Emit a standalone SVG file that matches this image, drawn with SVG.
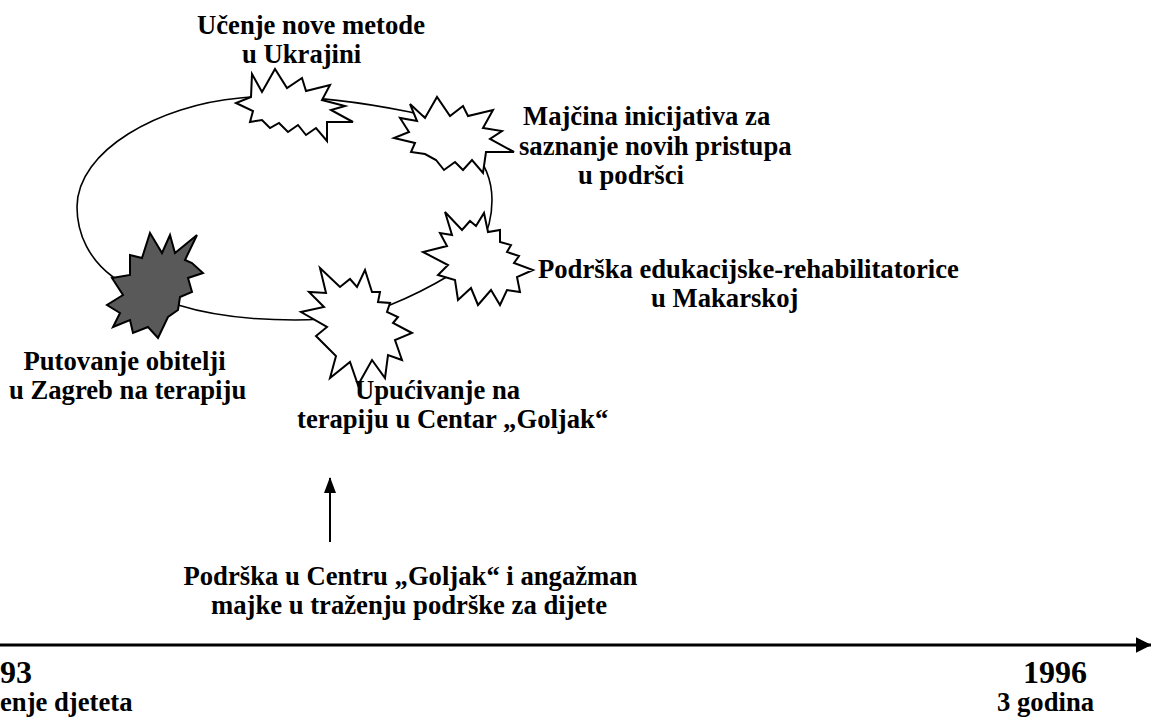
<svg xmlns="http://www.w3.org/2000/svg" width="1151" height="720" viewBox="0 0 1151 720">
<style>
.t{font-family:"Liberation Serif","Times New Roman",serif;font-weight:bold;font-size:26.67px;fill:#000}
.y{font-size:32px}
.star{fill:#fff;stroke:#000;stroke-width:2;stroke-linejoin:miter}
.dark{fill:#595959}
.loop{fill:none;stroke:#000;stroke-width:1.6}
.ar{stroke:#000;fill:none}
</style>
<defs>
<marker id="ahv" markerUnits="userSpaceOnUse" markerWidth="16" markerHeight="12" refX="15" refY="6" orient="auto" viewBox="0 0 16 12">
<path d="M0,0 L16,6 L0,12 Z" fill="#000"/>
</marker>
<marker id="aht" markerUnits="userSpaceOnUse" markerWidth="16" markerHeight="18" refX="15.5" refY="9" orient="auto" viewBox="0 0 16 18">
<path d="M0,1 L16,9 L0,17 Z" fill="#000"/>
</marker>
</defs>
<rect width="1151" height="720" fill="#fff"/>
<g id="connectors">
<path class="loop" d="M113,277 C90,260 77,235 77,207 C77,150 160,105 240,98 C280,94 330,96 410,112 C460,125 492,160 492,200 C492,235 475,260 450,275 C430,287 410,297 390,305 C360,316 325,320 295,320 C250,320 210,315 178,305 Z"/>
<line class="ar" x1="330" y1="542" x2="330" y2="478" stroke-width="2" marker-end="url(#ahv)"/>
<line class="ar" x1="0" y1="645" x2="1151" y2="645" stroke-width="3.2" marker-end="url(#aht)"/>
</g>
<g id="n-zagreb">
<polygon class="star dark" points="150,233 162,253 170,235 175,253 197,235 185,260 192,263 203,273 188,278 192,292 180,297 178,310 168,317 158,338 148,327 133,333 130,320 113,327 120,313 107,305 123,295 112,278 130,275 130,255 142,258"/>
<text class="t" x="23.5" y="370">Putovanje obitelji</text>
<text class="t" x="9" y="399">u Zagreb na terapiju</text>
</g>
<g id="n-ukrajina">
<polygon class="star" points="252,74 262,92 275,69 287,88 302,78 306,91 330,85 322,100 345,106 331,110 353,122 327,122 327,141 316,128 306,135 298,125 288,132 279,123 270,128 262,120 250,122 253,111 236,103 251,97"/>
<text class="t" x="197" y="34">Učenje nove metode</text>
<text class="t" x="242" y="63">u Ukrajini</text>
</g>
<g id="n-majcina">
<polygon class="star" points="410,104 425,118 437,97 450,116 463,106 468,116 493,110 483,128 502,131 490,139 514,152 486,152 483,173 472,160 463,170 455,162 444,170 436,160 425,154 411,152 415,143 394,138 409,132 400,118 417,121"/>
<text class="t" x="523" y="125">Majčina inicijativa za</text>
<text class="t" x="519" y="155">saznanje novih pristupa</text>
<text class="t" x="578" y="184">u podršci</text>
</g>
<g id="n-makarska">
<polygon class="star" points="445,212 462,230 470,221 476,226 484,213 488,232 500,230 500,242 511,245 507,252 519,256 514,263 533,270 517,277 520,292 507,290 500,305 491,290 478,305 471,288 458,300 455,280 438,275 448,265 423,252 447,246 440,233 452,235"/>
<text class="t" x="538" y="278">Podrška edukacijske-rehabilitatorice</text>
<text class="t" x="651" y="307">u Makarskoj</text>
</g>
<g id="n-goljak">
<polygon class="star" points="320,268 340,287 350,279 357,287 365,270 372,292 380,292 378,302 390,303 387,312 398,317 393,323 412,333 395,340 402,360 388,355 385,378 372,360 358,385 350,362 330,378 336,356 316,336 327,327 301,312 324,307 309,292 326,293"/>
<text class="t" x="355" y="399">Upućivanje na</text>
<text class="t" x="297" y="428">terapiju u Centar „Goljak“</text>
</g>
<g id="n-podrska">
<text class="t" x="183.5" y="585">Podrška u Centru „Goljak“ i angažman</text>
<text class="t" x="211" y="614">majke u traženju podrške za dijete</text>
</g>
<g id="n-1993">
<text class="t y" x="0" y="683">93</text>
<text class="t" x="0" y="711">enje djeteta</text>
</g>
<g id="n-1996">
<text class="t y" x="1023" y="683">1996</text>
<text class="t" x="997" y="711">3 godina</text>
</g>
</svg>
